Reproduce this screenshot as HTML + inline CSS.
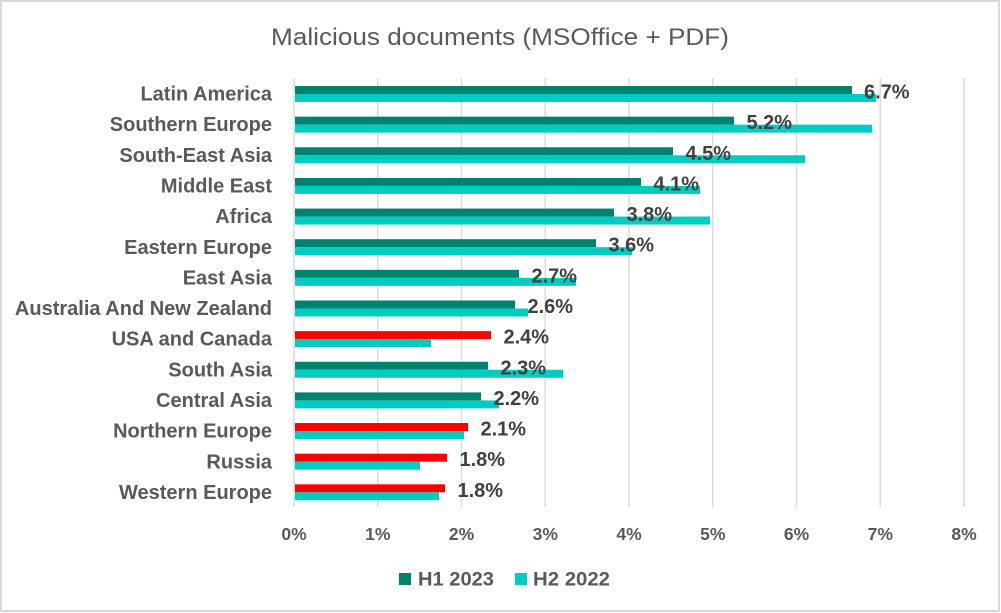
<!DOCTYPE html>
<html>
<head>
<meta charset="utf-8">
<style>
html,body{margin:0;padding:0;background:#fff;}
svg{display:block;}
text{font-family:"Liberation Sans",Arial,sans-serif;}
</style>
</head>
<body>
<svg width="1001" height="613" viewBox="0 0 1001 613" xmlns="http://www.w3.org/2000/svg">
<rect x="0" y="0" width="1001" height="613" fill="#fff"/>
<rect x="1" y="1" width="998" height="610" fill="none" stroke="#d9d9d9" stroke-width="2"/>

<text x="500" y="45" font-size="24" fill="#595959" text-anchor="middle" textLength="458" lengthAdjust="spacingAndGlyphs">Malicious documents (MSOffice + PDF)</text>

<g stroke="#d9d9d9" stroke-width="1.4">
<line x1="294" y1="78" x2="294" y2="507"/>
<line x1="377.75" y1="78" x2="377.75" y2="507"/>
<line x1="461.5" y1="78" x2="461.5" y2="507"/>
<line x1="545.25" y1="78" x2="545.25" y2="507"/>
<line x1="629" y1="78" x2="629" y2="507"/>
<line x1="712.75" y1="78" x2="712.75" y2="507"/>
<line x1="796.5" y1="78" x2="796.5" y2="507"/>
<line x1="880.25" y1="78" x2="880.25" y2="507"/>
<line x1="964" y1="78" x2="964" y2="507"/>
</g>

<g>
<!-- rows: top = 86 + i*30.64 -->
<rect x="295" y="86" width="557" height="8" fill="#00826E"/>
<rect x="295" y="94" width="581" height="8" fill="#00CCC1"/>

<rect x="295" y="116.64" width="439" height="8" fill="#00826E"/>
<rect x="295" y="124.64" width="577" height="8" fill="#00CCC1"/>

<rect x="295" y="147.28" width="378" height="8" fill="#00826E"/>
<rect x="295" y="155.28" width="510" height="8" fill="#00CCC1"/>

<rect x="295" y="177.92" width="346" height="8" fill="#00826E"/>
<rect x="295" y="185.92" width="405" height="8" fill="#00CCC1"/>

<rect x="295" y="208.56" width="319" height="8" fill="#00826E"/>
<rect x="295" y="216.56" width="415" height="8" fill="#00CCC1"/>

<rect x="295" y="239.2" width="301" height="8" fill="#00826E"/>
<rect x="295" y="247.2" width="337" height="8" fill="#00CCC1"/>

<rect x="295" y="269.84" width="224" height="8" fill="#00826E"/>
<rect x="295" y="277.84" width="281" height="8" fill="#00CCC1"/>

<rect x="295" y="300.48" width="220" height="8" fill="#00826E"/>
<rect x="295" y="308.48" width="233" height="8" fill="#00CCC1"/>

<rect x="295" y="331.12" width="196" height="8" fill="#FF0000"/>
<rect x="295" y="339.12" width="136" height="8" fill="#00CCC1"/>

<rect x="295" y="361.76" width="193" height="8" fill="#00826E"/>
<rect x="295" y="369.76" width="268" height="8" fill="#00CCC1"/>

<rect x="295" y="392.4" width="186" height="8" fill="#00826E"/>
<rect x="295" y="400.4" width="204" height="8" fill="#00CCC1"/>

<rect x="295" y="423.04" width="173" height="8" fill="#FF0000"/>
<rect x="295" y="431.04" width="169" height="8" fill="#00CCC1"/>

<rect x="295" y="453.68" width="152" height="8" fill="#FF0000"/>
<rect x="295" y="461.68" width="125" height="8" fill="#00CCC1"/>

<rect x="295" y="484.32" width="150" height="8" fill="#FF0000"/>
<rect x="295" y="492.32" width="144" height="8" fill="#00CCC1"/>
</g>

<g font-size="20" font-weight="bold" fill="#404040">
<text x="864" y="98.5">6.7%</text>
<text x="746.5" y="129.1">5.2%</text>
<text x="685.5" y="159.8">4.5%</text>
<text x="653.5" y="190.4">4.1%</text>
<text x="626.5" y="221.1">3.8%</text>
<text x="608.5" y="251.7">3.6%</text>
<text x="531.5" y="282.3">2.7%</text>
<text x="527.5" y="313">2.6%</text>
<text x="503.5" y="343.6">2.4%</text>
<text x="500.5" y="374.3">2.3%</text>
<text x="493.5" y="404.9">2.2%</text>
<text x="480.5" y="435.5">2.1%</text>
<text x="459.5" y="466.2">1.8%</text>
<text x="457.5" y="496.8">1.8%</text>
</g>

<g font-size="20" font-weight="bold" fill="#595959" text-anchor="end">
<text x="272" y="100.6">Latin America</text>
<text x="272" y="131.2">Southern Europe</text>
<text x="272" y="161.9">South-East Asia</text>
<text x="272" y="192.5">Middle East</text>
<text x="272" y="223.2">Africa</text>
<text x="272" y="253.8">Eastern Europe</text>
<text x="272" y="284.4">East Asia</text>
<text x="272" y="315.1">Australia And New Zealand</text>
<text x="272" y="345.7">USA and Canada</text>
<text x="272" y="376.4">South Asia</text>
<text x="272" y="407">Central Asia</text>
<text x="272" y="437.6">Northern Europe</text>
<text x="272" y="468.3">Russia</text>
<text x="272" y="498.9">Western Europe</text>
</g>

<g font-size="17.5" font-weight="bold" fill="#595959" text-anchor="middle">
<text x="294" y="540">0%</text>
<text x="377.75" y="540">1%</text>
<text x="461.5" y="540">2%</text>
<text x="545.25" y="540">3%</text>
<text x="629" y="540">4%</text>
<text x="712.75" y="540">5%</text>
<text x="796.5" y="540">6%</text>
<text x="880.25" y="540">7%</text>
<text x="964" y="540">8%</text>
</g>

<rect x="399" y="573" width="12" height="12" fill="#00826E"/>
<text x="418" y="585.7" font-size="19.5" font-weight="bold" fill="#595959" textLength="76" lengthAdjust="spacingAndGlyphs">H1 2023</text>
<rect x="515" y="573" width="12" height="12" fill="#00CCC1"/>
<text x="533" y="585.7" font-size="19.5" font-weight="bold" fill="#595959" textLength="77" lengthAdjust="spacingAndGlyphs">H2 2022</text>
</svg>
</body>
</html>
